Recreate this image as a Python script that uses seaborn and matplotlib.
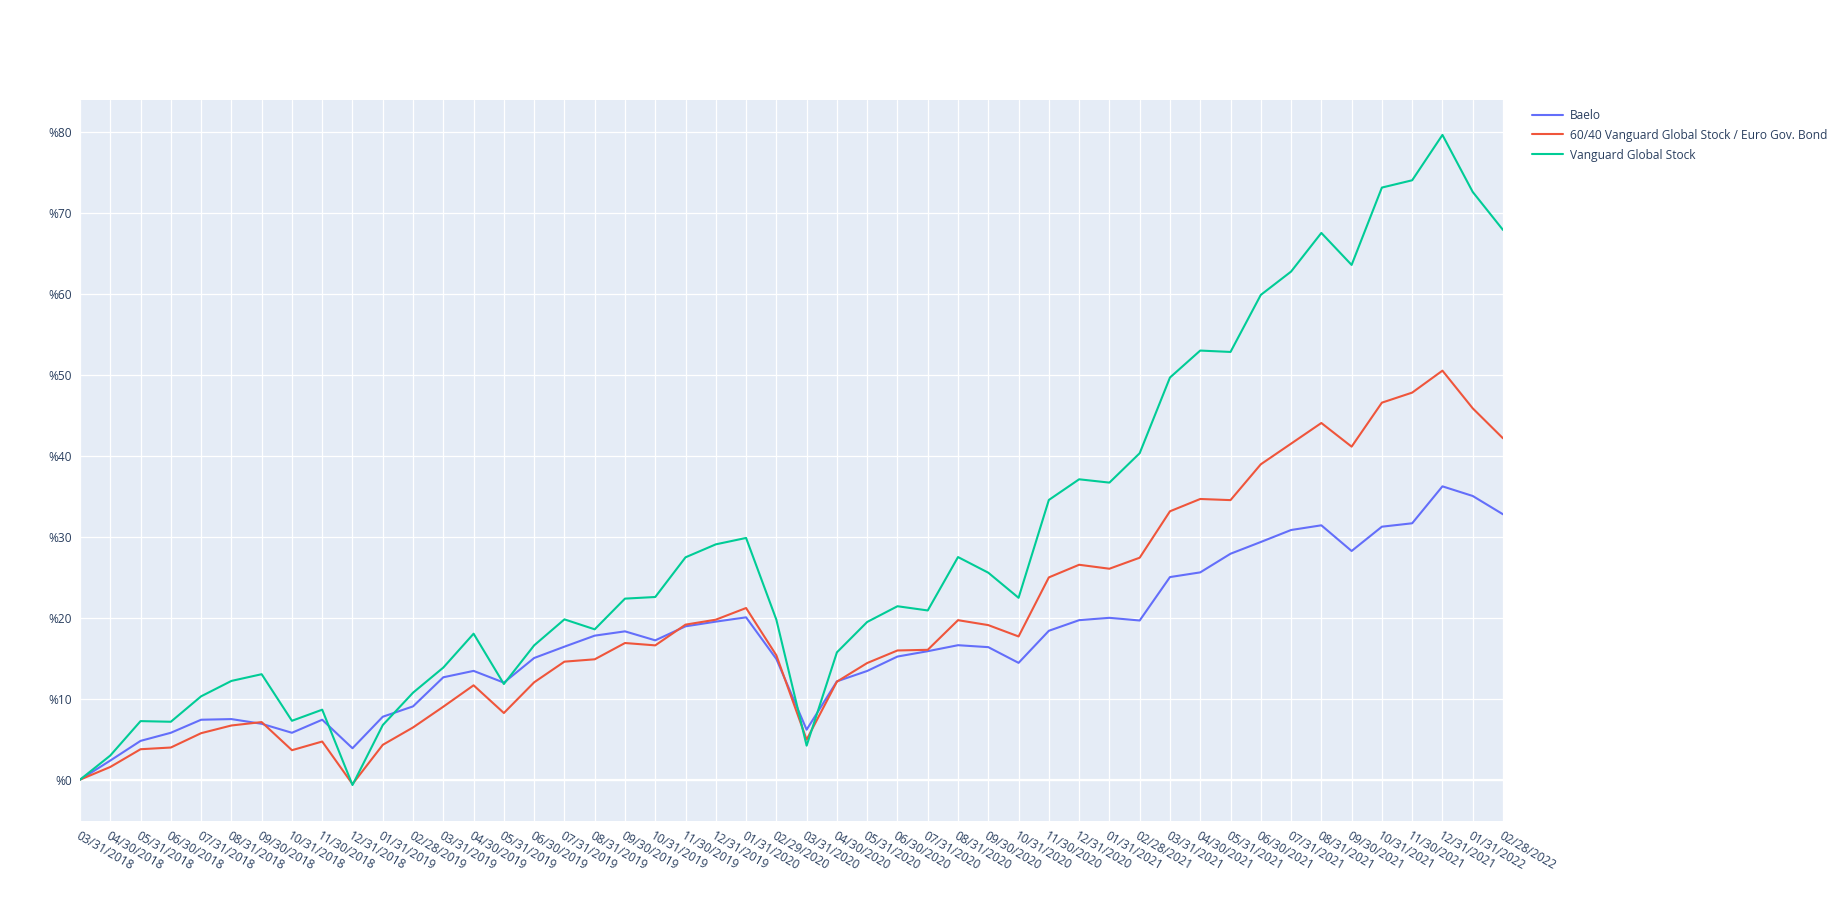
import pandas as pd
import matplotlib.pyplot as plt
import seaborn as sns

# fins de mois, 03/2018 -> 02/2022
dates = pd.date_range("2018-03-31", periods=48, freq="ME").strftime("%m/%d/%Y").tolist()

baelo = [0, 2.36, 4.79, 5.79, 7.40, 7.48, 6.90, 5.79, 7.40, 3.88,
         7.77, 9.05, 12.64, 13.43, 11.98, 15.02, 16.42, 17.78, 18.31, 17.20,
         18.93, 19.51, 20.04, 14.90, 6.17, 12.14, 13.42, 15.20, 15.86, 16.60,
         16.36, 14.42, 18.38, 19.69, 19.98, 19.65, 25.01, 25.59, 27.89, 29.34,
         30.82, 31.40, 28.23, 31.23, 31.65, 36.21, 35.02, 32.76]

sixty_forty = [0, 1.57, 3.76, 3.97, 5.74, 6.69, 7.11, 3.64, 4.71, -0.54,
               4.30, 6.45, 9.01, 11.65, 8.23, 12.02, 14.57, 14.86, 16.87, 16.58,
               19.14, 19.75, 21.19, 15.35, 4.94, 12.10, 14.40, 15.95, 16.03, 19.69,
               19.08, 17.68, 24.97, 26.53, 26.04, 27.40, 33.13, 34.65, 34.51, 38.93,
               41.48, 44.03, 41.11, 46.54, 47.78, 50.49, 45.84, 42.14]

vgs = [0, 2.98, 7.23, 7.15, 10.29, 12.19, 13.02, 7.27, 8.64, -0.66,
       6.74, 10.74, 13.84, 18.02, 11.81, 16.58, 19.79, 18.56, 22.35, 22.55,
       27.45, 29.05, 29.84, 19.75, 4.20, 15.72, 19.47, 21.41, 20.89, 27.48,
       25.55, 22.45, 34.53, 37.08, 36.67, 40.30, 49.64, 52.97, 52.80, 59.84,
       62.72, 67.49, 63.54, 73.09, 73.99, 79.59, 72.55, 67.86]

series = ["Baelo", "60/40 Vanguard Global Stock / Euro Gov. Bond", "Vanguard Global Stock"]
colors = ["#636EFA", "#EF553B", "#00CC96"]

rows = []
for name, vals in zip(series, [baelo, sixty_forty, vgs]):
    for i, v in enumerate(vals):
        rows.append({"idx": i, "value": v, "serie": name})
df = pd.DataFrame(rows)

sns.set_style("darkgrid", {"axes.facecolor": "#E5ECF6", "grid.color": "white"})
plt.rcParams["font.family"] = ["Open Sans", "DejaVu Sans"]

fig = plt.figure(figsize=(18.45, 9.01), dpi=100)
ax = fig.add_axes([80 / 1845, 1 - 821 / 901, (1503 - 80) / 1845, (821 - 100) / 901])

sns.lineplot(data=df, x="idx", y="value", hue="serie", hue_order=series,
             palette=colors, linewidth=1.5, ax=ax, legend=True)

ax.set_xlim(0, len(dates) - 1)
ax.set_ylim(-5.1, 83.9)
ax.set_xticks(range(len(dates)))
ax.set_xticklabels(dates, rotation=-30, ha="left", va="top", rotation_mode="anchor",
                   fontsize=8.6, color="#2a3f5f")
ax.set_yticks(range(0, 81, 10))
ax.set_yticklabels([f"%{v}" for v in range(0, 81, 10)], fontsize=8.6, color="#2a3f5f")
ax.tick_params(axis="both", length=0, pad=6)
ax.axhline(0, color="white", linewidth=1.6, zorder=0.5)
ax.grid(True, color="white", linewidth=0.9)
ax.set_xlabel("")
ax.set_ylabel("")
for s in ax.spines.values():
    s.set_visible(False)

leg = ax.legend(loc="upper left", bbox_to_anchor=(1521 / 1845, 1 - 98 / 901),
                bbox_transform=fig.transFigure, frameon=False, fontsize=8.6,
                handlelength=2.6, handletextpad=0.6, labelspacing=0.58)
for t in leg.get_texts():
    t.set_color("#2a3f5f")

plt.savefig("out.png", dpi=100)
